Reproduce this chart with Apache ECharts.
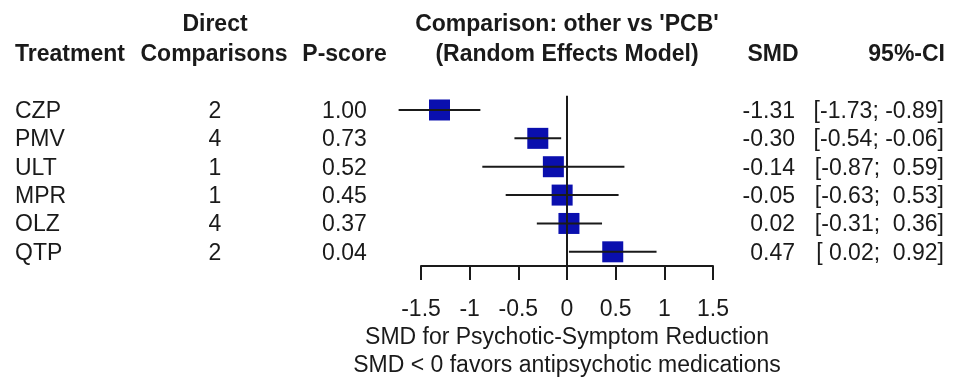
<!DOCTYPE html>
<html>
<head>
<meta charset="utf-8">
<script src="https://cdn.jsdelivr.net/npm/echarts@6/dist/echarts.min.js"></script>
<style>
  html, body { margin: 0; padding: 0; background: #fff; }
  #chart { width: 960px; height: 381px; }
</style>
</head>
<body>
<div id="chart"></div>
<script>
const treatments = ['CZP', 'PMV', 'ULT', 'MPR', 'OLZ', 'QTP'];
const directComparisons = [2, 4, 1, 1, 4, 2];
const pScores = ['1.00', '0.73', '0.52', '0.45', '0.37', '0.04'];
const smd = [-1.31, -0.30, -0.14, -0.05, 0.02, 0.47];
const ciLower = [-1.73, -0.54, -0.87, -0.63, -0.31, 0.02];
const ciUpper = [-0.89, -0.06, 0.59, 0.53, 0.36, 0.92];
const xMin = -1.5, xMax = 1.5, xStep = 0.5;
const axisTitle = ['SMD for Psychotic-Symptom Reduction', 'SMD < 0 favors antipsychotic medications'];

const FONT = "'Liberation Sans', Arial, sans-serif";
const FS = 23;
const INK = '#1a1a1a';
const BOX = '#0a0fae';

function fmt(v) { return (v < 0 ? '' : ' ') + v.toFixed(2); }
function ciText(i) { return '[' + fmt(ciLower[i]) + '; ' + fmt(ciUpper[i]) + ']'; }

const chart = echarts.init(document.getElementById('chart'), null, { renderer: 'canvas' });

function txt(text, x, y, align, bold) {
  return {
    type: 'text', x: x, y: y, silent: true,
    style: {
      text: text, textAlign: align, align: align,
      textVerticalAlign: 'middle', verticalAlign: 'middle',
      font: (bold ? 'bold ' : '') + FS + 'px ' + FONT, fill: INK
    }
  };
}

const option = {
  animation: false,
  backgroundColor: '#fff',
  grid: { left: 421, width: 292, top: 95.8, height: 170.4, containLabel: false },
  xAxis: {
    type: 'value', min: xMin, max: xMax, interval: xStep,
    axisLine: { show: true, onZero: false, lineStyle: { color: INK, width: 2 } },
    axisTick: { show: true, length: 14, lineStyle: { color: INK, width: 2 } },
    splitLine: { show: false },
    axisLabel: { fontSize: FS, fontFamily: FONT, color: INK, margin: 32 },
    name: axisTitle.join('\n'),
    nameLocation: 'middle', nameGap: 58,
    nameTextStyle: { fontSize: FS, fontFamily: FONT, color: INK, lineHeight: 28 }
  },
  yAxis: { type: 'value', min: -0.5, max: 5.5, inverse: true, show: false },
  graphic: [
    txt('Direct', 215, 25, 'center', true),
    txt('Treatment', 15, 55, 'left', true),
    txt('Comparisons', 214, 55, 'center', true),
    txt('P-score', 344.5, 55, 'center', true),
    txt("Comparison: other vs 'PCB'", 567, 25, 'center', true),
    txt('(Random Effects Model)', 567, 55, 'center', true),
    txt('SMD', 773, 55, 'center', true),
    txt('95%-CI', 945, 55, 'right', true)
  ],
  series: [
    {
      type: 'custom',
      clip: false,
      data: smd.map((v, i) => [v, ciLower[i], ciUpper[i], i]),
      encode: { x: [0, 1, 2], y: 3 },
      markLine: {
        silent: true, symbol: 'none', label: { show: false },
        lineStyle: { color: INK, width: 2, type: 'solid' },
        data: [{ xAxis: 0 }]
      },
      renderItem: function (params, api) {
        const row = api.value(3);
        const c = api.coord([api.value(0), row]);
        const lo = api.coord([api.value(1), row]);
        const hi = api.coord([api.value(2), row]);
        const s = 21;
        return {
          type: 'group',
          children: [
            { type: 'rect', shape: { x: c[0] - s / 2, y: c[1] - s / 2, width: s, height: s },
              style: { fill: BOX } },
            { type: 'line', shape: { x1: lo[0], y1: lo[1], x2: hi[0], y2: hi[1] },
              style: { stroke: INK, lineWidth: 2 } }
          ]
        };
      }
    },
    {
      type: 'custom',
      clip: false,
      silent: true,
      data: treatments.map((t, i) => [0, i]),
      encode: { x: 0, y: 1 },
      renderItem: function (params, api) {
        const i = params.dataIndex;
        const y = api.coord([0, api.value(1)])[1] + 1.5;
        return {
          type: 'group',
          children: [
            txt(treatments[i], 15, y, 'left', false),
            txt(String(directComparisons[i]), 215, y, 'center', false),
            txt(pScores[i], 344.5, y, 'center', false),
            txt(smd[i].toFixed(2), 795, y, 'right', false),
            txt(ciText(i), 944, y, 'right', false)
          ]
        };
      }
    }
  ]
};
chart.setOption(option);
</script>
</body>
</html>
